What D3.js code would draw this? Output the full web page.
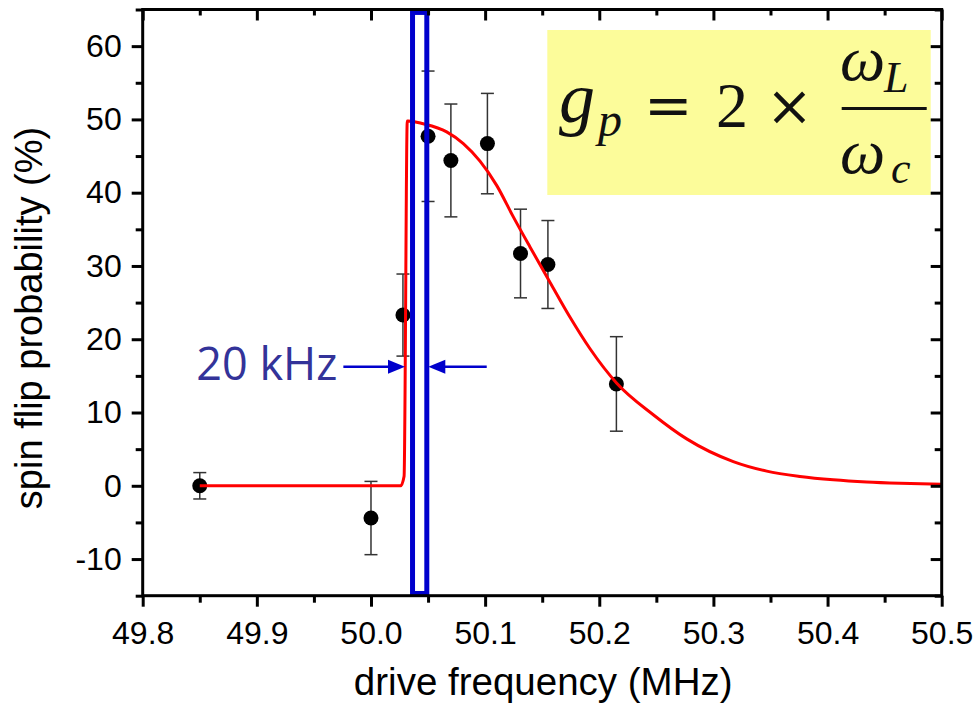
<!DOCTYPE html>
<html>
<head>
<meta charset="utf-8">
<script src="https://cdn.jsdelivr.net/npm/d3@7"></script>
<style>
  html, body { margin: 0; padding: 0; background: #fff; }
  svg { display: block; }
</style>
</head>
<body>
<div id="chart"></div>
<script>
// measured points (MHz, %), with symmetric error bars
const freqMHz = [49.85, 50.0, 50.028, 50.05, 50.07, 50.102, 50.131, 50.155, 50.215];
const flipProb = [0, -4.4, 23.3, 47.7, 44.4, 46.7, 31.7, 30.2, 13.9];
const flipErr = [1.8, 5.0, 5.6, 8.9, 7.7, 6.85, 6.05, 6.0, 6.45];

// fitted curve
const fitFreq = [49.85, 50.026, 50.029, 50.0318, 50.0327, 50.0458, 50.0663, 50.0809, 50.0955,
  50.1101, 50.1247, 50.1393, 50.1553, 50.1744, 50.1919, 50.2153, 50.2473, 50.2766,
  50.3174, 50.3467, 50.3758, 50.405, 50.4343, 50.4635, 50.5];
const fitProb = [0, 0, 1.3, 49.8, 49.8, 49.4, 48.3, 46.7, 44.3, 41.0, 36.7, 32.6, 28.2, 23.0,
  18.7, 14.0, 9.7, 6.4, 3.3, 2.0, 1.28, 0.82, 0.52, 0.34, 0.2];

// 20 kHz window and annotation (data coords)
const windowFreq = [50.0364, 50.0489];
const windowProb = [-14.7, 64.6];
const arrowLeft = [49.9758, 50.0298];
const arrowRight = [50.1014, 50.0502];
const arrowProb = 16.25;

const xMajor = [49.8, 49.9, 50.0, 50.1, 50.2, 50.3, 50.4, 50.5];
const xMinor = [49.85, 49.95, 50.05, 50.15, 50.25, 50.35, 50.45];
const yMajor = [-10, 0, 10, 20, 30, 40, 50, 60];
const yMinor = [-15, -5, 5, 15, 25, 35, 45, 55, 65];

const W = 974, H = 710;
const m = { left: 142.7, right: 974 - 941.7, top: 9.5, bottom: 710 - 595.7 };
const iw = W - m.left - m.right, ih = H - m.top - m.bottom;

const x = d3.scaleLinear().domain([49.8, 50.5]).range([0, iw]);
const y = d3.scaleLinear().domain([-15, 65]).range([ih, 0]);

const svg = d3.select('#chart').append('svg')
  .attr('width', W).attr('height', H)
  .style('font-family', '"Liberation Sans", Arial, sans-serif');

const g = svg.append('g').attr('transform', `translate(${m.left},${m.top})`);

// formula box
const boxX0 = 547.3 - m.left, boxX1 = 930.7 - m.left;
g.append('rect')
  .attr('x', boxX0).attr('y', 30 - m.top)
  .attr('width', boxX1 - boxX0).attr('height', 165)
  .attr('fill', '#fcfc9a');

const fm = svg.append('g').attr('fill', '#111')
  .style('font-family', '"Liberation Serif", "DejaVu Serif", serif');
fm.append('text').attr('x', 559).attr('y', 122).style('font-size', '72px').style('font-style', 'italic').text('g');
fm.append('text').attr('x', 598).attr('y', 136).style('font-size', '48px').style('font-style', 'italic').text('p');
fm.append('text').attr('x', 644).attr('y', 125).style('font-size', '58px')
  .style('font-family', '"DejaVu Serif", serif').text('=');
fm.append('text').attr('x', 716).attr('y', 127).style('font-size', '64px').text('2');
fm.append('text').attr('x', 766).attr('y', 125).style('font-size', '56px')
  .style('font-family', '"DejaVu Serif", serif').text('×');
fm.append('rect').attr('x', 841.7).attr('y', 107).attr('width', 85).attr('height', 3);
fm.append('text').attr('x', 840).attr('y', 80).style('font-size', '64px').style('font-style', 'italic').text('ω');
fm.append('text').attr('x', 884).attr('y', 92).style('font-size', '44px').style('font-style', 'italic').text('L');
fm.append('text').attr('x', 840).attr('y', 173).style('font-size', '64px').style('font-style', 'italic').text('ω');
fm.append('text').attr('x', 891).attr('y', 183).style('font-size', '44px').style('font-style', 'italic').text('c');

// error bars
const pts = freqMHz.map((f, i) => ({ f, p: flipProb[i], e: flipErr[i] }));
const eb = g.append('g').attr('stroke', '#333').attr('stroke-width', 1.5);
pts.forEach((d) => {
  const cx = x(d.f);
  eb.append('line').attr('x1', cx).attr('x2', cx).attr('y1', y(d.p - d.e)).attr('y2', y(d.p + d.e));
  eb.append('line').attr('x1', cx - 6.5).attr('x2', cx + 6.5).attr('y1', y(d.p - d.e)).attr('y2', y(d.p - d.e));
  eb.append('line').attr('x1', cx - 6.5).attr('x2', cx + 6.5).attr('y1', y(d.p + d.e)).attr('y2', y(d.p + d.e));
});

g.selectAll('circle.pt')
  .data(pts)
  .join('circle')
  .attr('class', 'pt')
  .attr('cx', (d) => x(d.f))
  .attr('cy', (d) => y(d.p))
  .attr('r', 7.5)
  .attr('fill', '#000');

// fit
const line = d3.line().x((d) => x(d[0])).y((d) => y(d[1])).curve(d3.curveMonotoneX);
g.append('path')
  .datum(fitFreq.map((f, i) => [f, fitProb[i]]))
  .attr('d', line)
  .attr('fill', 'none')
  .attr('stroke', '#ff0000')
  .attr('stroke-width', 3);

// window rectangle
g.append('rect')
  .attr('x', x(windowFreq[0])).attr('y', y(windowProb[1]))
  .attr('width', x(windowFreq[1]) - x(windowFreq[0]))
  .attr('height', y(windowProb[0]) - y(windowProb[1]))
  .attr('fill', 'none')
  .attr('stroke', '#0000cc')
  .attr('stroke-width', 5);

// arrows
const arrow = (from, to) => {
  const x0 = x(from), x1 = x(to), ya = y(arrowProb);
  const dir = Math.sign(x1 - x0);
  g.append('line').attr('x1', x0).attr('x2', x1 - dir * 10).attr('y1', ya).attr('y2', ya)
    .attr('stroke', '#0000cc').attr('stroke-width', 2.5);
  g.append('path')
    .attr('d', `M${x1},${ya}L${x1 - dir * 17},${ya - 7}L${x1 - dir * 17},${ya + 7}Z`)
    .attr('fill', '#0000cc');
};
arrow(arrowLeft[0], arrowLeft[1]);
arrow(arrowRight[0], arrowRight[1]);

g.append('text')
  .attr('x', x(arrowLeft[0]) - 6)
  .attr('y', y(arrowProb) + 13.5)
  .attr('text-anchor', 'end')
  .attr('fill', '#333399')
  .style('font-family', '"Open Sans", sans-serif')
  .style('font-size', '45px')
  .text('20 kHz');

// axes
const styleAxis = (sel) => {
  sel.select('.domain').remove();
  sel.selectAll('line').attr('stroke', '#000').attr('stroke-width', 3);
  sel.selectAll('text').attr('fill', '#000').style('font-size', '32px')
    .style('font-family', '"Liberation Sans", Arial, sans-serif');
};
const fmtX = d3.format('.1f');
const fmtY = (v) => String(v); // plain hyphen for negatives

g.append('g').attr('transform', `translate(0,${ih})`)
  .call(d3.axisBottom(x).tickValues(xMajor).tickFormat(fmtX).tickSize(11).tickPadding(15))
  .call(styleAxis);
g.append('g').attr('transform', `translate(0,${ih})`)
  .call(d3.axisBottom(x).tickValues(xMinor).tickFormat('').tickSize(7))
  .call(styleAxis);
g.append('g')
  .call(d3.axisBottom(x).tickValues(xMajor).tickFormat('').tickSize(11))
  .call(styleAxis);
g.append('g')
  .call(d3.axisBottom(x).tickValues(xMinor).tickFormat('').tickSize(6))
  .call(styleAxis);

g.append('g')
  .call(d3.axisLeft(y).tickValues(yMajor).tickFormat(fmtY).tickSize(11).tickPadding(10))
  .call(styleAxis);
g.append('g')
  .call(d3.axisLeft(y).tickValues(yMinor).tickFormat('').tickSize(7))
  .call(styleAxis);
g.append('g').attr('transform', `translate(${iw},0)`)
  .call(d3.axisLeft(y).tickValues(yMajor).tickFormat('').tickSize(11))
  .call(styleAxis);
g.append('g').attr('transform', `translate(${iw},0)`)
  .call(d3.axisLeft(y).tickValues(yMinor).tickFormat('').tickSize(7))
  .call(styleAxis);

g.append('rect')
  .attr('width', iw).attr('height', ih)
  .attr('fill', 'none').attr('stroke', '#000').attr('stroke-width', 3);

// titles
svg.append('text')
  .attr('x', m.left + iw / 2 + 1).attr('y', 695)
  .attr('text-anchor', 'middle')
  .style('font-size', '38.5px')
  .text('drive frequency (MHz)');

svg.append('text')
  .attr('transform', 'translate(41.5,318) rotate(-90)')
  .attr('text-anchor', 'middle')
  .style('font-size', '38px')
  .text('spin flip probability (%)');
</script>
</body>
</html>
